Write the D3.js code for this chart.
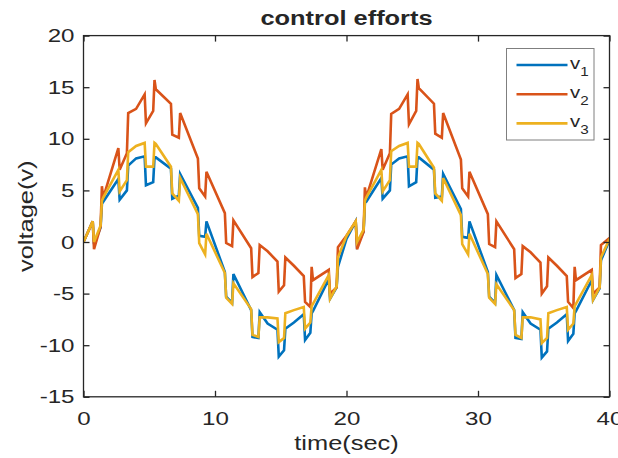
<!DOCTYPE html>
<html>
<head>
<meta charset="utf-8">
<script src="https://cdn.jsdelivr.net/npm/d3@7"></script>
<style>
  body { margin: 0; background: #fff; }
  text { font-family: Arial, "Liberation Sans", sans-serif; fill: #262626; }
</style>
</head>
<body>
<svg id="chart"></svg>
<script>
// sample times (s), shared by all three signals
const time = [0, 0.7, 0.8, 1.3, 1.4, 1.5, 2.65, 2.75, 3.3, 3.4, 4.0, 4.65, 4.75, 5.3, 5.4, 5.5,
  6.65, 6.75, 7.25, 7.35, 8.7, 8.8, 9.25, 9.35, 10.75, 10.85, 11.3, 11.4, 12.75, 12.85, 13.3, 13.4,
  14.0, 14.75, 14.85, 15.25, 15.35, 16.0, 16.75, 16.85, 17.25, 17.35, 17.45, 18.65, 18.75, 19.25, 19.35, 20.0,
  20.7, 20.8, 21.3, 21.4, 21.5, 22.65, 22.75, 23.3, 23.4, 24.0, 24.65, 24.75, 25.3, 25.4, 25.5,
  26.65, 26.75, 27.25, 27.35, 28.7, 28.8, 29.25, 29.35, 30.75, 30.85, 31.3, 31.4, 32.75, 32.85, 33.3, 33.4,
  34.0, 34.75, 34.85, 35.25, 35.35, 36.0, 36.75, 36.85, 37.25, 37.35, 37.45, 38.65, 38.75, 39.25, 39.35, 40.0];

const v1 = [0, 2.0, -0.2, 1.4, 3.7, 3.9, 6.1, 4.1, 5.0, 7.4, 8.1, 8.3, 5.5, 5.8, 8.2, 8.2,
  7.1, 4.2, 4.5, 6.6, 3.3, 0.6, 0.5, 2.0, -2.9, -5.3, -5.9, -3.1, -6.6, -9.2, -9.3, -6.8,
  -7.9, -8.5, -11.1, -10.5, -8.4, -7.8, -7.0, -9.5, -8.8, -6.9, -6.7, -3.6, -5.5, -4.4, -2.4, 0.3,
  2.0, -0.3, 1.0, 3.8, 3.9, 6.2, 4.2, 5.0, 7.5, 8.1, 8.3, 5.4, 5.8, 8.2, 8.2,
  7.0, 4.3, 4.4, 6.6, 3.2, 0.5, 0.4, 2.0, -2.9, -5.3, -5.9, -3.2, -6.6, -9.3, -9.4, -6.8,
  -7.9, -8.5, -11.2, -10.6, -8.4, -7.8, -7.0, -9.6, -8.9, -6.9, -6.7, -3.7, -5.6, -4.5, -1.8, 0.2];

const v2 = [0, 2.0, -0.7, 1.5, 5.4, 4.3, 9.1, 7.0, 8.6, 12.5, 12.9, 14.3, 11.5, 12.7, 15.7, 14.8,
  13.4, 10.4, 10.1, 12.5, 8.1, 5.2, 4.4, 6.8, 2.8, -0.1, -0.4, 2.1, -0.6, -3.4, -3.0, -0.3,
  -0.9, -1.9, -4.8, -4.2, -1.5, -2.3, -3.3, -5.8, -6.3, -2.4, -3.7, -2.7, -5.0, -4.4, -0.5, 0.6,
  2.0, -0.7, 1.0, 5.3, 4.3, 9.0, 7.0, 8.6, 12.4, 12.9, 14.3, 11.4, 12.7, 15.8, 14.9,
  13.4, 10.5, 10.1, 12.5, 8.0, 5.2, 4.4, 6.8, 2.7, -0.2, -0.5, 2.0, -0.7, -3.5, -3.1, -0.4,
  -1.0, -2.0, -5.0, -4.3, -1.5, -2.3, -3.3, -5.8, -6.4, -2.4, -3.7, -2.7, -5.0, -4.4, -0.3, 0.4];

const v3 = [0, 2.0, 0.0, 1.6, 4.0, 4.3, 7.0, 4.9, 6.0, 8.7, 9.3, 9.6, 7.3, 7.3, 9.6, 9.5,
  7.3, 4.7, 4.0, 6.2, 2.7, -0.1, -1.2, 0.8, -3.0, -5.4, -6.0, -4.0, -6.5, -9.0, -9.2, -7.3,
  -7.3, -7.4, -9.7, -9.3, -6.9, -6.6, -6.3, -8.4, -7.8, -6.2, -6.0, -3.2, -5.5, -4.3, -1.5, 0.6,
  2.0, 0.0, 1.2, 4.0, 4.3, 7.0, 4.9, 6.0, 8.8, 9.3, 9.6, 7.3, 7.3, 9.6, 9.5,
  7.2, 4.7, 4.0, 6.2, 2.6, -0.2, -1.2, 0.8, -3.1, -5.4, -6.0, -4.1, -6.6, -9.0, -9.3, -7.3,
  -7.3, -7.5, -9.8, -9.3, -6.9, -6.6, -6.3, -8.5, -7.9, -6.2, -6.0, -3.2, -5.6, -4.4, -1.5, 0.3];

const seriesNames = ["1", "2", "3"];
const seriesColors = ["#0072BD", "#D95319", "#EDB120"];
const xTicks = [0, 10, 20, 30, 40];
const yTicks = [-15, -10, -5, 0, 5, 10, 15, 20];

const W = 618, H = 458;
const margin = {top: 35.6, right: 8.5, bottom: 61.2, left: 83.5};
const axisColor = "#262626";
const stretch = 1.27;   // the reference's lettering is wider than Arial

const svg = d3.select("#chart").attr("width", W).attr("height", H);

const x = d3.scaleLinear().domain([0, 40]).range([margin.left, W - margin.right]);
const y = d3.scaleLinear().domain([-15, 20]).range([H - margin.bottom, margin.top]);

svg.append("defs").append("clipPath").attr("id", "plotClip")
  .append("rect")
  .attr("x", x(0)).attr("y", y(20))
  .attr("width", x(40) - x(0)).attr("height", y(-15) - y(20));

// lines
const line = d3.line().x(d => x(d[0])).y(d => y(d[1]));
const allSeries = [v1, v2, v3];

svg.append("g").attr("clip-path", "url(#plotClip)")
  .selectAll("path")
  .data(allSeries)
  .enter()
  .append("path")
  .attr("d", vals => line(time.map((t, i) => [t, vals[i]])))
  .attr("fill", "none")
  .attr("stroke", (d, i) => seriesColors[i])
  .attr("stroke-width", 2.6)
  .attr("stroke-linejoin", "miter");

// axes, ticks pointing inward on all four sides
function styleAxis(g) {
  g.select(".domain").remove();
  g.selectAll(".tick line").attr("stroke", axisColor).attr("stroke-width", 1.3);
  g.selectAll("text").style("font-size", "19px").attr("fill", axisColor);
}

const fmt = d => String(d);

svg.append("g")
  .attr("transform", `translate(0,${y(-15)})`)
  .call(d3.axisBottom(x).tickValues(xTicks).tickFormat(fmt).tickSizeInner(-6).tickSizeOuter(0).tickPadding(15))
  .call(styleAxis)
  .selectAll("text")
  .attr("transform", `scale(${stretch},1)`);

svg.append("g")
  .attr("transform", `translate(0,${y(20)})`)
  .call(d3.axisTop(x).tickValues(xTicks).tickSizeInner(-6).tickSizeOuter(0).tickFormat(""))
  .call(styleAxis);

svg.append("g")
  .attr("transform", `translate(${x(0)},0)`)
  .call(d3.axisLeft(y).tickValues(yTicks).tickFormat(fmt).tickSizeInner(-6).tickSizeOuter(0).tickPadding(9))
  .call(styleAxis)
  .selectAll("text")
  .attr("x", -9 / stretch)
  .attr("transform", `scale(${stretch},1)`);

svg.append("g")
  .attr("transform", `translate(${x(40)},0)`)
  .call(d3.axisRight(y).tickValues(yTicks).tickSizeInner(-6).tickSizeOuter(0).tickFormat(""))
  .call(styleAxis);

// box
svg.append("rect")
  .attr("x", x(0)).attr("y", y(20))
  .attr("width", x(40) - x(0)).attr("height", y(-15) - y(20))
  .attr("fill", "none")
  .attr("stroke", axisColor)
  .attr("stroke-width", 1.3);

// title and axis labels
svg.append("text")
  .attr("transform", `translate(${(x(0) + x(40)) / 2},25) scale(${stretch},1)`)
  .attr("text-anchor", "middle")
  .style("font-size", "20px").style("font-weight", "bold")
  .attr("fill", "#000")
  .text("control efforts");

svg.append("text")
  .attr("transform", `translate(${(x(0) + x(40)) / 2},450) scale(${stretch},1)`)
  .attr("text-anchor", "middle")
  .style("font-size", "20px")
  .text("time(sec)");

svg.append("text")
  .attr("transform", `translate(33,${(y(20) + y(-15)) / 2}) rotate(-90) scale(${stretch},1)`)
  .attr("text-anchor", "middle")
  .style("font-size", "20px")
  .text("voltage(v)");

// legend
const legend = svg.append("g").attr("transform", "translate(506.5,48.5)");
legend.append("rect")
  .attr("width", 87.5).attr("height", 91.5)
  .attr("fill", "#fff")
  .attr("stroke", "#7f7f7f")
  .attr("stroke-width", 1);

const items = legend.selectAll("g.item")
  .data(seriesNames)
  .enter()
  .append("g")
  .attr("class", "item")
  .attr("transform", (d, i) => `translate(0,${16.5 + i * 29.2})`);

items.append("line")
  .attr("x1", 10).attr("x2", 61)
  .attr("stroke", (d, i) => seriesColors[i])
  .attr("stroke-width", 2.6);

const label = items.append("text")
  .attr("transform", `translate(63.5,4) scale(${stretch},1)`)
  .style("font-size", "16px");
label.append("tspan").text("v");
label.append("tspan")
  .attr("dy", 7)
  .style("font-size", "12px")
  .text(d => d);
</script>
</body>
</html>
